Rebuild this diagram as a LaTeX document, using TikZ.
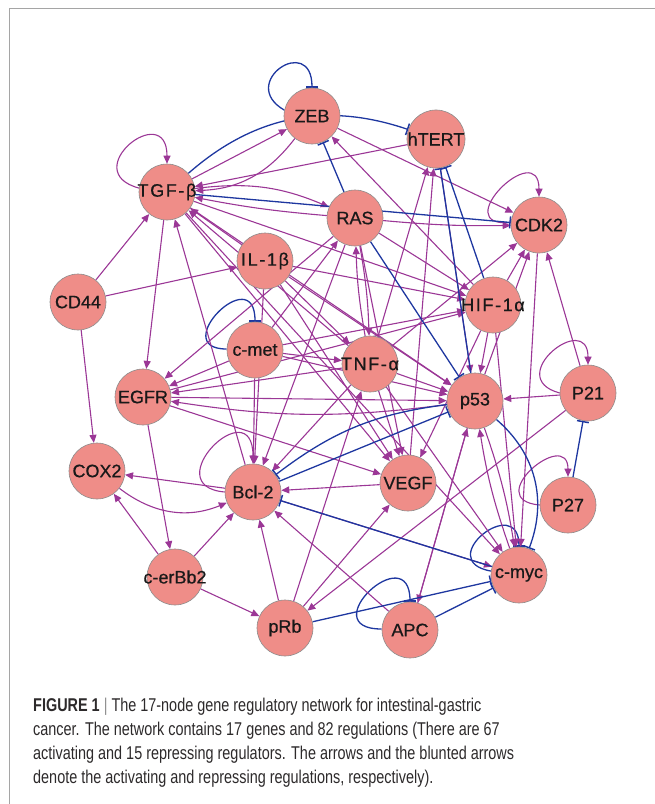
\documentclass[tikz,border=0pt]{standalone}
\usepackage{fontspec}
\setmainfont{Liberation Sans}
\newfontfamily\capfont[FakeStretch=0.78]{Liberation Sans}
\newfontfamily\genefont[FakeBold=0.6]{Liberation Sans}
\newfontfamily\spacedfont[LetterSpace=9,FakeBold=0.6]{Liberation Sans}
\usetikzlibrary{arrows.meta,backgrounds}
\definecolor{actc}{RGB}{155,55,150}
\definecolor{repc}{RGB}{30,55,160}
\definecolor{nodefill}{RGB}{239,141,136}
\definecolor{nodeborder}{RGB}{140,140,140}
\definecolor{framec}{RGB}{165,165,165}
\definecolor{captc}{RGB}{45,42,43}
\newcommand{\wide}[1]{\makebox[0pt][c]{\spacedfont #1}}
\tikzset{
  gene/.style={circle, fill=nodefill, draw=nodeborder, line width=0.6pt, minimum size=56pt, inner sep=0pt,
    font=\genefont\fontsize{18}{18}\selectfont, text=black!90},
  act/.style={draw=actc, line width=1.1pt, -{Triangle[length=8pt,width=7pt]}},
  rep/.style={draw=repc, line width=1.3pt, -{Bar[width=12pt,line width=1.5pt]}},
  captline/.style={anchor=base west, inner sep=0pt, text=captc, font=\capfont\fontsize{18.5}{18.5}\selectfont}
}
\begin{document}
\begin{tikzpicture}[x=1pt,y=1pt]
\useasboundingbox (0,0) rectangle (655,-804);
\draw[framec, line width=1.5pt] (9.5,-804) -- (9.5,-8.5) -- (655,-8.5);

% genes
\node[gene] (zeb)   at (312,-116) {ZEB};
\node[gene] (htert) at (436,-139) {hTERT};
\node[gene] (tgf)   at (167,-192) {\wide{TGF-β}};
\node[gene] (ras)   at (355,-218) {RAS};
\node[gene] (cdk)   at (539,-225) {CDK2};
\node[gene] (il)    at (265,-261) {\wide{IL-1β}};
\node[gene] (cd44)  at (78,-302)  {CD44};
\node[gene] (hif)   at (493,-305) {\wide{HIF-1α}};
\node[gene] (cmet)  at (255,-350) {c-met};
\node[gene] (tnf)   at (370,-364) {\wide{TNF-α}};
\node[gene] (egfr)  at (143,-397) {EGFR};
\node[gene] (p53)   at (475,-401) {p53};
\node[gene] (p21)   at (588,-393) {P21};
\node[gene] (cox)   at (97,-471)  {COX2};
\node[gene] (bcl)   at (253,-492) {Bcl-2};
\node[gene] (vegf)  at (408,-483) {VEGF};
\node[gene] (p27)   at (568,-505) {P27};
\node[gene] (cerb)  at (175,-577) {\makebox[0pt][c]{c-erBb2}};
\node[gene] (cmyc)  at (519,-575) {c-myc};
\node[gene] (prb)   at (285,-628) {pRb};
\node[gene] (apc)   at (410,-630) {APC};

\begin{scope}[on background layer]
% self loops
\draw[act] (tgf.172) .. controls +(165:65) and +(90:65) .. (tgf.90);
\draw[rep] (zeb.168) .. controls +(150:55) and +(90:55) .. (zeb.90);
\draw[act] (cdk.175) .. controls +(185:65) and +(90:60) .. (cdk.90);
\draw[rep] (cmet.178) .. controls +(180:60) and +(90:62) .. (cmet.90);
\draw[act] (p21.180) .. controls +(165:60) and +(90:55) .. (p21.90);
\draw[act] (p27.180) .. controls +(175:60) and +(90:50) .. (p27.90);
\draw[act] (bcl.180) .. controls +(175:70) and +(90:75) .. (bcl.90);
\draw[rep] (cmyc.172) .. controls +(170:60) and +(90:55) .. (cmyc.90);
\draw[rep] (apc.178) .. controls +(180:70) and +(90:65) .. (apc.90);

% activating
\draw[act] (tgf) -- (zeb);
\draw[act] (zeb) to[bend left=25] (tgf);
\draw[act] (htert) -- (tgf);
\draw[act] (tgf) to[bend left=15] (ras);
\draw[act] (ras) to[bend left=3] (tgf);
\draw[act] (tgf) -- (egfr);
\draw[act] (cd44) -- (tgf);
\draw[act] (cd44) -- (il);
\draw[act] (cd44) -- (cox);
\draw[act] (bcl) -- (tgf);
\draw[act] (il) -- (tgf);
\draw[act] (tnf) -- (tgf);
\draw[act] (tgf) -- (p53);
\draw[act] (tgf) -- (vegf);
\draw[act] (tgf) -- (cmyc);
\draw[act] (tgf) -- (hif);
\draw[act] (zeb) -- (cdk);
\draw[act] (hif) -- (zeb);
\draw[act] (tnf) -- (htert);
\draw[act] (vegf) -- (htert);
\draw[act] (htert) -- (p53);
\draw[act] (ras) to[bend left=4] (tnf);
\draw[act] (tnf) to[bend left=4] (ras);
\draw[act] (ras) to[bend right=3] (cdk);
\draw[act] (ras) -- (hif);
\draw[act] (ras) -- (vegf);
\draw[act] (ras) -- (bcl);
\draw[act] (ras) -- (egfr);
\draw[act] (cmet) -- (ras);
\draw[act] (cdk) -- (cmyc);
\draw[act] (hif) -- (cdk);
\draw[act] (tnf) -- (cdk);
\draw[act] (p21) -- (cdk);
\draw[act] (p53) -- (cdk);
\draw[act] (il) -- (tnf);
\draw[act] (il) -- (p53);
\draw[act] (il) -- (vegf);
\draw[act] (il) -- (bcl);
\draw[act] (il) -- (hif);
\draw[act] (hif) -- (p53);
\draw[act] (egfr) -- (hif);
\draw[act] (cmet) -- (hif);
\draw[act] (hif) -- (cmyc);
\draw[act] (hif) -- (vegf);
\draw[act] (cmet) -- (egfr);
\draw[act] (cmet) -- (bcl);
\draw[act] (cmet) -- (tnf);
\draw[act] (cmet) -- (p53);
\draw[act] (tnf) -- (egfr);
\draw[act] (tnf) -- (p53);
\draw[act] (tnf) -- (vegf);
\draw[act] (tnf) -- (bcl);
\draw[act] (tnf) -- (cmyc);
\draw[act] (egfr) -- (p53);
\draw[act] (egfr) -- (cerb);
\draw[act] (p53) to[bend left=8] (egfr);
\draw[act] (egfr) -- (vegf);
\draw[act] (p21) -- (p53);
\draw[act] (p53) to[bend left=5] (cmyc);
\draw[act] (cmyc) to[bend left=5] (p53);
\draw[act] (apc) -- (p53);
\draw[act] (p53) -- (apc);
\draw[act] (bcl) -- (cox);
\draw[act] (cox) to[bend right=30] (bcl);
\draw[act] (cerb) -- (cox);
\draw[act] (cerb) -- (prb);
\draw[act] (cerb) -- (bcl);
\draw[act] (prb) -- (bcl);
\draw[act] (apc) -- (bcl);
\draw[act] (vegf) -- (bcl);
\draw[act] (prb) -- (vegf);
\draw[act] (p21) -- (prb);
\draw[act] (bcl) -- (cmyc);
\draw[act] (prb) -- (tnf);

% repressing
\draw[rep] (tgf) to[bend left=30] (htert);
\draw[rep] (tgf) -- (cdk);
\draw[rep] (ras) -- (zeb);
\draw[rep] (hif) -- (htert);
\draw[rep] (p53) -- (htert);
\draw[rep] (ras) -- (p53);
\draw[rep] (p53) to[bend right=15] (bcl);
\draw[rep] (bcl) -- (p53);
\draw[rep] (cmyc) -- (bcl);
\draw[rep] (p27) -- (p21);
\draw[rep] (p53) to[bend left=35] (cmyc);
\draw[rep] (apc) -- (cmyc);
\draw[rep] (prb) -- (cmyc);
\end{scope}

% caption
\node[captline] (cap1) at (33,-711) {\textbf{FIGURE 1} {\color{black!45}|} The 17-node gene regulatory network for intestinal-gastric};
\node[captline] (cap2) at (33,-735) {cancer. The network contains 17 genes and 82 regulations (There are 67};
\node[captline] (cap3) at (33,-759) {activating and 15 repressing regulators. The arrows and the blunted arrows};
\node[captline] (cap4) at (33,-783) {denote the activating and repressing regulations, respectively).};
\end{tikzpicture}
\end{document}
